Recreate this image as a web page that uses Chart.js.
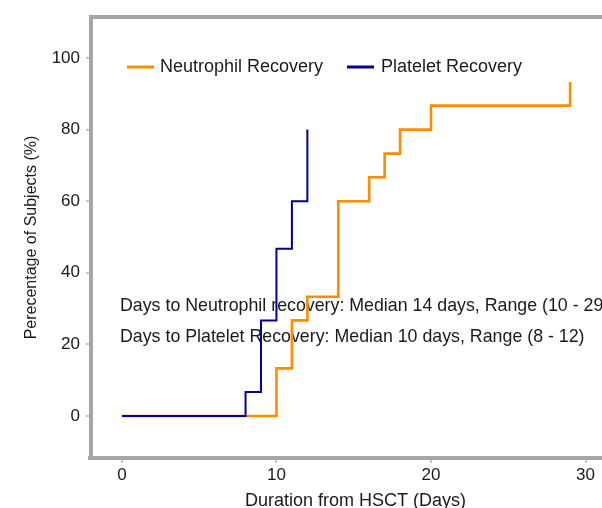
<!DOCTYPE html>
<html>
<head>
<meta charset="utf-8">
<script src="https://cdn.jsdelivr.net/npm/chart.js@4"></script>
<style>
	html, body { margin: 0; padding: 0; background: #fff; }
	#wrap { width: 602px; height: 508px; overflow: hidden; position: relative; }
</style>
</head>
<body>
<div id="wrap"><canvas id="chart" width="620" height="508"></canvas></div>
<script>
// Données (15 sujets, marches de 6,7 %)
const neutroDays = [0, 10, 11, 12, 14, 16, 17, 18, 20, 29];
const neutroPct = [0, 13.3, 26.7, 33.3, 60, 66.7, 73.3, 80, 86.7, 93.3];
const plateletDays = [0, 8, 9, 10, 11, 12];
const plateletPct = [0, 6.7, 26.7, 46.7, 60, 80];

const xTicks = [0, 10, 20, 30];
const yTicks = [0, 20, 40, 60, 80, 100];

const seriesNames = ['Neutrophil Recovery', 'Platelet Recovery'];
const notes = [
	'Days to Neutrophil recovery: Median 14 days, Range (10 - 29)',
	'Days to Platelet Recovery: Median 10 days, Range (8 - 12)'
];

const orange = '#FF8C00';
const navy = '#000096';
const frameColor = '#A3A7AA';
const fontFamily = "'Liberation Sans', Arial, sans-serif";

// Cadre gris, légende et notes dessinées dans la zone du graphique
const decorPlugin = {
	id: 'decor',
	beforeDatasetsDraw(chart) {
		const ctx = chart.ctx;
		ctx.save();
		ctx.fillStyle = '#1a1a1a';
		ctx.textBaseline = 'middle';
		ctx.textAlign = 'left';
		ctx.font = '17.8px ' + fontFamily;
		ctx.fillText(notes[0], 120, 306);
		ctx.fillText(notes[1], 120, 337);

		// légende
		ctx.font = '18px ' + fontFamily;
		ctx.lineWidth = 3;
		ctx.strokeStyle = orange;
		ctx.beginPath(); ctx.moveTo(127, 67); ctx.lineTo(154, 67); ctx.stroke();
		ctx.strokeStyle = navy;
		ctx.beginPath(); ctx.moveTo(347, 67); ctx.lineTo(374, 67); ctx.stroke();
		ctx.fillText(seriesNames[0], 160, 67);
		ctx.fillText(seriesNames[1], 381, 67);
		ctx.restore();
	},
	afterDraw(chart) {
		const {ctx, chartArea} = chart;
		ctx.save();
		ctx.strokeStyle = frameColor;
		ctx.lineWidth = 4;
		ctx.beginPath();
		ctx.moveTo(chartArea.right + 5, chartArea.top);
		ctx.lineTo(chartArea.left, chartArea.top);
		ctx.lineTo(chartArea.left, chartArea.bottom);
		ctx.stroke();
		ctx.beginPath();
		ctx.moveTo(chartArea.left - 3, chartArea.bottom);
		ctx.lineTo(chartArea.right + 5, chartArea.bottom);
		ctx.stroke();
		ctx.restore();
	}
};

function toPoints(xs, ys) {
	return xs.map((x, i) => ({x: x, y: ys[i]}));
}

new Chart(document.getElementById('chart'), {
	type: 'line',
	data: {
		datasets: [
			{
				label: seriesNames[0],
				data: toPoints(neutroDays, neutroPct),
				borderColor: orange,
				borderWidth: 2.6,
				stepped: true,
				pointRadius: 0,
				fill: false,
				order: 1
			},
			{
				label: seriesNames[1],
				data: toPoints(plateletDays, plateletPct),
				borderColor: navy,
				borderWidth: 2,
				stepped: true,
				pointRadius: 0,
				fill: false,
				order: 0
			}
		]
	},
	options: {
		responsive: false,
		animation: false,
		layout: { padding: { top: 17, left: 0, right: 0, bottom: 0 } },
		plugins: {
			legend: { display: false },
			tooltip: { enabled: false }
		},
		scales: {
			x: {
				type: 'linear',
				min: -2.0,
				max: 32.23,
				afterBuildTicks: (scale) => { scale.ticks = xTicks.map(v => ({value: v})); },
				afterFit: (scale) => { scale.height = 50; },
				border: { display: false },
				grid: { drawOnChartArea: false, drawTicks: true, tickLength: 5, color: '#C4C7CA', lineWidth: 2 },
				ticks: { color: '#1a1a1a', padding: 2, maxRotation: 0, font: { family: fontFamily, size: 17 } },
				title: {
					display: true,
					text: 'Duration from HSCT (Days)',
					color: '#1a1a1a',
					font: { family: fontFamily, size: 18 },
					padding: { top: 0, bottom: -4 }
				}
			},
			y: {
				type: 'linear',
				min: -11.73,
				max: 111.45,
				afterBuildTicks: (scale) => { scale.ticks = yTicks.map(v => ({value: v})); },
				afterFit: (scale) => { scale.width = 91; },
				border: { display: false },
				grid: { drawOnChartArea: false, drawTicks: true, tickLength: 5, color: '#C4C7CA', lineWidth: 2 },
				ticks: { color: '#1a1a1a', padding: 6, font: { family: fontFamily, size: 17 } },
				title: {
					display: true,
					text: 'Perecentage of Subjects (%)',
					color: '#1a1a1a',
					font: { family: fontFamily, size: 16 },
					padding: { top: 22, bottom: 0 }
				}
			}
		}
	},
	plugins: [decorPlugin]
});
</script>
</body>
</html>
